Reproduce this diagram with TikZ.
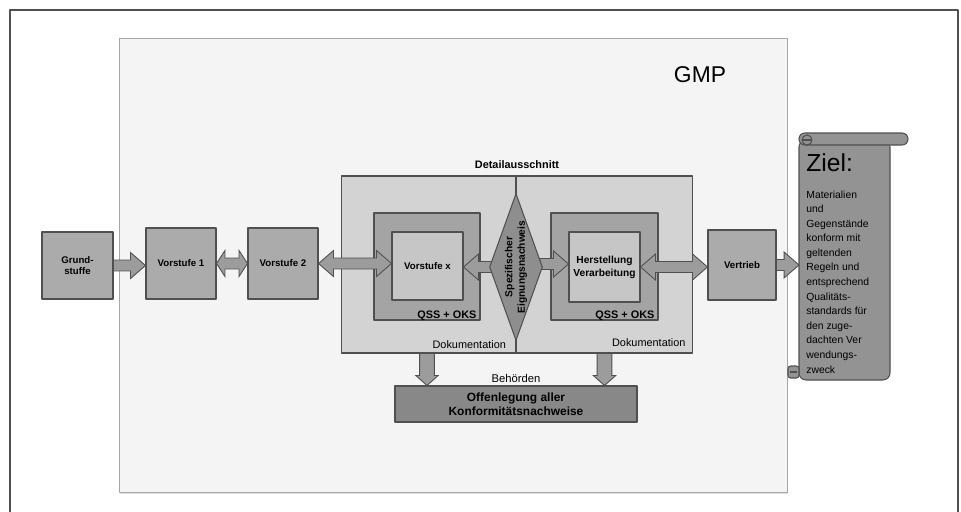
\documentclass[tikz,border=0pt]{standalone}
\usepackage{fontspec}
\setmainfont{Liberation Sans}
\usetikzlibrary{calc,positioning,shapes.geometric,shadows}

\definecolor{linie}{HTML}{505050}
\definecolor{gmpgrau}{HTML}{F4F4F4}
\definecolor{detailgrau}{HTML}{D3D3D3}
\definecolor{kastengrau}{HTML}{ABABAB}
\definecolor{qssgrau}{HTML}{A4A4A4}
\definecolor{innengrau}{HTML}{C6C6C6}
\definecolor{rautengrau}{HTML}{8E8E8E}
\definecolor{zielgrau}{HTML}{939393}
\definecolor{offengrau}{HTML}{888888}
\definecolor{pfeilgrau}{HTML}{9C9C9C}

% Masse der Blockpfeile
\newcommand{\schaft}{3.1pt}
\newcommand{\kopf}{7.4pt}
\newcommand{\spitze}{8.5pt}

% einfacher Blockpfeil (waagerecht), Spitze bei #2
\newcommand{\blockpfeil}[2]{%
  \draw[pfeil] let \p1=#1, \p2=#2, \n1={sign(\x2-\x1)} in
    (\x1,{\y1+\schaft}) -- ({\x2-\n1*\spitze},{\y1+\schaft}) -- ({\x2-\n1*\spitze},{\y1+\kopf})
    -- (\x2,\y1) -- ({\x2-\n1*\spitze},{\y1-\kopf}) -- ({\x2-\n1*\spitze},{\y1-\schaft})
    -- (\x1,{\y1-\schaft}) -- cycle;}

% Doppelpfeil (waagerecht), #1 = Laenge der Spitzen
\newcommand{\doppelpfeil}[3][8.5pt]{%
  \draw[pfeil] let \p1=#2, \p2=#3, \n1={sign(\x2-\x1)} in
    (\x1,\y1) -- ({\x1+\n1*#1},{\y1+\kopf}) -- ({\x1+\n1*#1},{\y1+\schaft})
    -- ({\x2-\n1*#1},{\y1+\schaft}) -- ({\x2-\n1*#1},{\y1+\kopf}) -- (\x2,\y1)
    -- ({\x2-\n1*#1},{\y1-\kopf}) -- ({\x2-\n1*#1},{\y1-\schaft})
    -- ({\x1+\n1*#1},{\y1-\schaft}) -- ({\x1+\n1*#1},{\y1-\kopf}) -- cycle;}

% Pfeil nach unten
\newcommand{\pfeilrunter}[2]{%
  \draw[pfeil] let \p1=#1, \p2=#2 in
    ({\x1-4.2pt},\y1) -- ({\x1-4.2pt},{\y2+5.7pt}) -- ({\x1-6.4pt},{\y2+5.7pt}) -- (\x1,\y2)
    -- ({\x1+6.4pt},{\y2+5.7pt}) -- ({\x1+4.2pt},{\y2+5.7pt}) -- ({\x1+4.2pt},\y1) -- cycle;}

\begin{document}
\begin{tikzpicture}[
    x=0.02cm, y=-0.02cm,
    % Stile
    kasten/.style={draw=linie, fill=kastengrau, line width=0.6pt, inner sep=0pt, align=center,
      font=\fontsize{5.5}{6.6}\selectfont\bfseries},
    qss/.style={draw=linie, fill=qssgrau, line width=0.6pt, inner sep=0pt},
    innen/.style={kasten, fill=innengrau},
    raute/.style={diamond, draw=linie, fill=rautengrau, line width=0.6pt, inner sep=0pt},
    pfeil/.style={draw=linie, fill=pfeilgrau, line width=0.5pt, line join=miter},
    rolle/.style={draw=linie, fill=zielgrau, line width=0.6pt},
    klein/.style={font=\fontsize{6.2}{7.4}\selectfont\bfseries, inner sep=1pt},
    line join=round]

  \useasboundingbox (0,0) rectangle (961,511);

  % Rahmen und GMP-Bereich
  \draw[linie, line width=0.7pt] (10,10) rectangle (958,540);
  \node[draw=black!35, fill=gmpgrau, line width=0.5pt, minimum width=13.36cm, minimum height=9.08cm,
    drop shadow={opacity=0.25, shadow xshift=0.8pt, shadow yshift=-1.2pt}] (gmp) at (453,265) {};
  \node[font=\fontsize{13}{15}\selectfont] (gmptitel) at (700,75) {GMP};

  % Vorstufen
  \node[kasten, minimum width=1.42cm, minimum height=1.34cm] (grund) at (77.5,265.5) {Grund-\\stuffe};
  \node[kasten, minimum width=1.40cm, minimum height=1.42cm] (v1) at (181,263.5) {Vorstufe 1};
  \node[kasten, minimum width=1.40cm, minimum height=1.42cm] (v2) at (283,263.5) {Vorstufe 2};

  % Detailausschnitt
  \node[draw=linie, fill=detailgrau, line width=0.6pt, minimum width=7.04cm, minimum height=3.54cm] (detail) at (517,264.5) {};
  \node[klein, above=3pt of detail.north] (detailtitel) {Detailausschnitt};
  \node[qss, minimum width=2.12cm, minimum height=2.14cm] (qss1) at (427,266.5) {};
  \node[innen, minimum width=1.42cm, minimum height=1.36cm] (vx) at (427.5,266) {Vorstufe x};
  \node[qss, minimum width=2.14cm, minimum height=2.14cm] (qss2) at (604.5,266.5) {};
  \node[innen, minimum width=1.42cm, minimum height=1.40cm, font=\fontsize{5.8}{7.4}\selectfont\bfseries] (herst) at (604.5,267) {Herstellung\\Verarbeitung};
  \node[klein, anchor=south east] (qsslinks) at ($(qss1.south east)+(-2,2)$) {QSS + OKS};
  \node[klein, anchor=south east] (qssrechts) at ($(qss2.south east)+(-2,2)$) {QSS + OKS};
  \coordinate (mitte) at (516,267);
  \draw[linie, line width=0.6pt] (mitte |- detail.north) -- (mitte |- detail.south);

  % Pfeile
  \blockpfeil{(grund.east)}{(v1.west)}
  \doppelpfeil[4.8pt]{(v1.east)}{(v2.west)}
  \doppelpfeil{(v2.east)}{(vx.west)}
  \blockpfeil{($(mitte)+(-24,0)$)}{(vx.east)}
  \blockpfeil{($(mitte)+(24,-3)$)}{(herst.west)}

  % Raute
  \node[raute, minimum width=1.06cm, minimum height=2.94cm,
    label={[rotate=90, align=center, font=\fontsize{5.8}{7}\selectfont\bfseries]center:Spezifischer\\Eignungsnachweis}] (raute) at (mitte) {};

  \node[klein, font=\fontsize{6.2}{7.4}\selectfont, anchor=south east] (doklinks) at ($(mitte |- detail.south)+(-8,-3)$) {Dokumentation};
  \node[klein, font=\fontsize{6.2}{7.4}\selectfont, anchor=south east] (dokrechts) at ($(detail.south east)+(-6,-5)$) {Dokumentation};

  % Vertrieb und Ziel
  \node[kasten, minimum width=1.36cm, minimum height=1.40cm] (vertrieb) at (742,265) {Vertrieb};
  \doppelpfeil{(herst.east)}{(vertrieb.west)}

  \draw[rolle, rounded corners=4pt] (799,140) rectangle (890,380);
  \draw[rolle, rounded corners=3.3pt] (799,133) rectangle (908,145);
  \draw[rolle] (807,140) circle (5);
  \draw[linie, line width=0.6pt] (803,140) -- (811,140);
  \draw[rolle, rounded corners=1.5pt] (788,366) rectangle (799,378);
  \draw[linie, line width=0.6pt] (790,372) -- (797,372);
  \node[anchor=north west, inner xsep=4pt, inner ysep=0pt, align=left,
    font=\fontsize{5.9}{8.3}\selectfont] (ziel) at (799,153)
    {{\fontsize{14}{14}\selectfont Ziel:}\\[7pt]
     Materialien\\und\\Gegenstände\\konform mit\\geltenden\\Regeln und\\entsprechend\\Qualitäts-\\standards für\\den zuge-\\dachten Ver\\wendungs-\\zweck};
  \blockpfeil{(vertrieb.east)}{(vertrieb.east -| ziel.west)}

  % Behoerden
  \node[kasten, fill=offengrau, minimum width=4.84cm, minimum height=0.72cm, font=\fontsize{6.8}{8.2}\selectfont\bfseries] (offen) at (516,404) {Offenlegung aller\\Konformitätsnachweise};
  \node[klein, font=\fontsize{6.4}{7.4}\selectfont, anchor=south] (behoerden) at ($(offen.north)+(0,-1)$) {Behörden};
  \pfeilrunter{(qss1 |- detail.south)}{(qss1 |- offen.north)}
  \pfeilrunter{(qss2 |- detail.south)}{(qss2 |- offen.north)}

\end{tikzpicture}
\end{document}
